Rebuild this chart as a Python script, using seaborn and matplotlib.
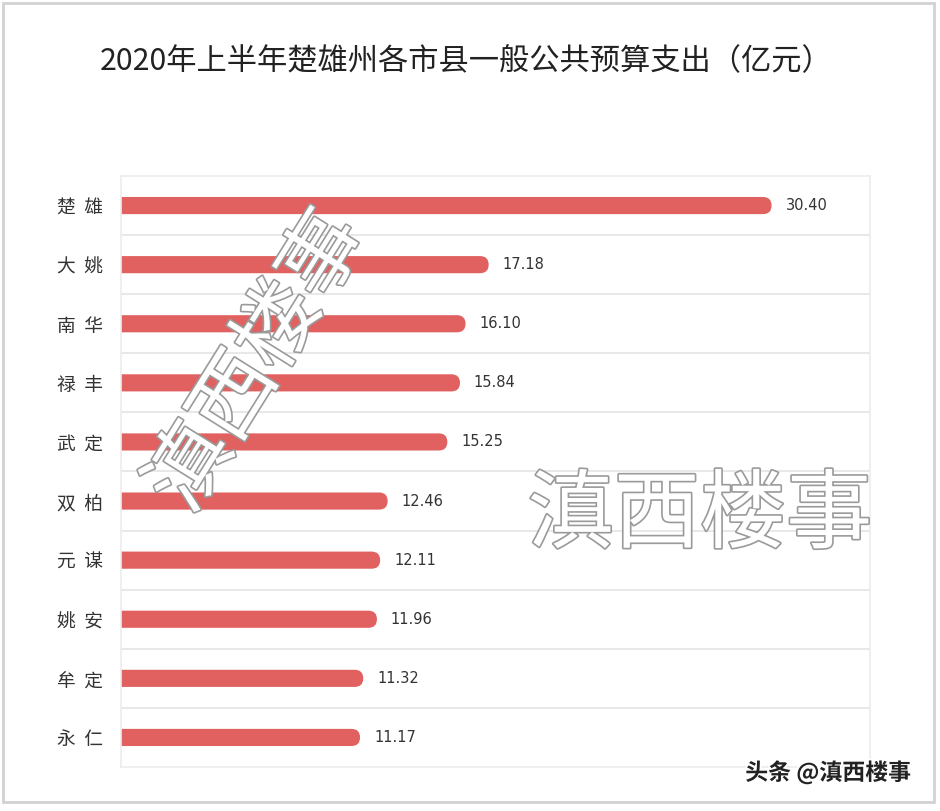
import matplotlib
matplotlib.use("Agg")
import matplotlib.pyplot as plt
import matplotlib.patheffects as pe
from matplotlib.patches import FancyBboxPatch, Rectangle
import seaborn as sns
import pandas as pd

# data
counties = ["楚雄", "大姚", "南华", "禄丰", "武定", "双柏", "元谋", "姚安", "牟定", "永仁"]
spending = [30.40, 17.18, 16.10, 15.84, 15.25, 12.46, 12.11, 11.96, 11.32, 11.17]
title = "2020年上半年楚雄州各市县一般公共预算支出（亿元）"

df = pd.DataFrame({"county": counties, "value": spending})

sns.set_theme(style="white")
plt.rcParams["font.family"] = ["Noto Sans CJK SC", "DejaVu Sans"]

bar_color = "#e16060"

fig = plt.figure(figsize=(9.4, 8.11), dpi=100)
ax = fig.add_axes([121 / 940, 1 - 767 / 811, 749 / 940, 591 / 811])

sns.barplot(data=df, x="value", y="county", orient="h", color=bar_color,
            width=0.29, saturation=1, ax=ax)
ax.set_xlim(0, 35)
ax.set_ylim(len(counties) - 0.5, -0.5)

# turn the square bars into bars with a rounded right end
px_x = 749 / 35          # pixels per x unit
px_y = 591 / len(counties)  # pixels per y unit
for p in list(ax.patches):
    x0, y0, w, h = p.get_x(), p.get_y(), p.get_width(), p.get_height()
    p.remove()
    r = h * px_y / 2 / px_x
    fb = FancyBboxPatch((x0 - 2, y0), w + 2, h,
                        boxstyle=f"round,pad=0,rounding_size={r}",
                        mutation_aspect=px_x / px_y,
                        facecolor=bar_color, edgecolor="none", zorder=2)
    ax.add_patch(fb)

# value labels
for i, v in enumerate(spending):
    ax.text(v + 0.65, i, f"{v:.2f}", va="center", ha="left",
            fontsize=10.5, color="#333333", family="DejaVu Sans")

# row separators
ax.set_yticks([i + 0.5 for i in range(len(counties) - 1)], minor=True)
ax.grid(True, axis="y", which="minor", color="#e4e4e4", linewidth=1.2)
ax.grid(False, axis="y", which="major")
ax.grid(False, axis="x")
ax.tick_params(axis="y", which="minor", length=0)
ax.set_axisbelow(True)

ax.set_xticks([])
ax.set_yticks(range(len(counties)))
ax.set_yticklabels(["  ".join(c) for c in counties], fontsize=13.5, color="#333333")
ax.tick_params(axis="y", which="major", length=0, pad=13)
ax.set_xlabel("")
ax.set_ylabel("")
for s in ax.spines.values():
    s.set_color("#ececec")
    s.set_linewidth(1.2)

fig.text(466 / 940, 1 - 62 / 811, title, ha="center", va="center",
         fontsize=21.8, color="#222222")

# outer card border
fig.patches.append(Rectangle((3 / 940, 1 - 802 / 811), 931 / 940, 799 / 811,
                             transform=fig.transFigure, fill=False,
                             edgecolor="#d2d2d2", linewidth=2))

# watermarks
wm_fx = [pe.withStroke(linewidth=2.4, foreground="#9a9a9a")]
fig.text(700 / 940, 1 - 517 / 811, "滇西楼事", ha="center", va="center",
         fontsize=62, color="white", path_effects=wm_fx, zorder=5)
fig.text(258 / 940, 1 - 362 / 811, "滇西楼事", ha="center", va="center",
         fontsize=60, color="white", rotation=58, path_effects=wm_fx, zorder=5)
fig.text(828 / 940, 1 - 773 / 811, "头条 @滇西楼事", ha="center", va="center",
         fontsize=16.5, color="#222222", weight="bold", zorder=5,
         path_effects=[pe.withStroke(linewidth=2.5, foreground="white")])

fig.savefig("out.png", dpi=100, facecolor="white")
